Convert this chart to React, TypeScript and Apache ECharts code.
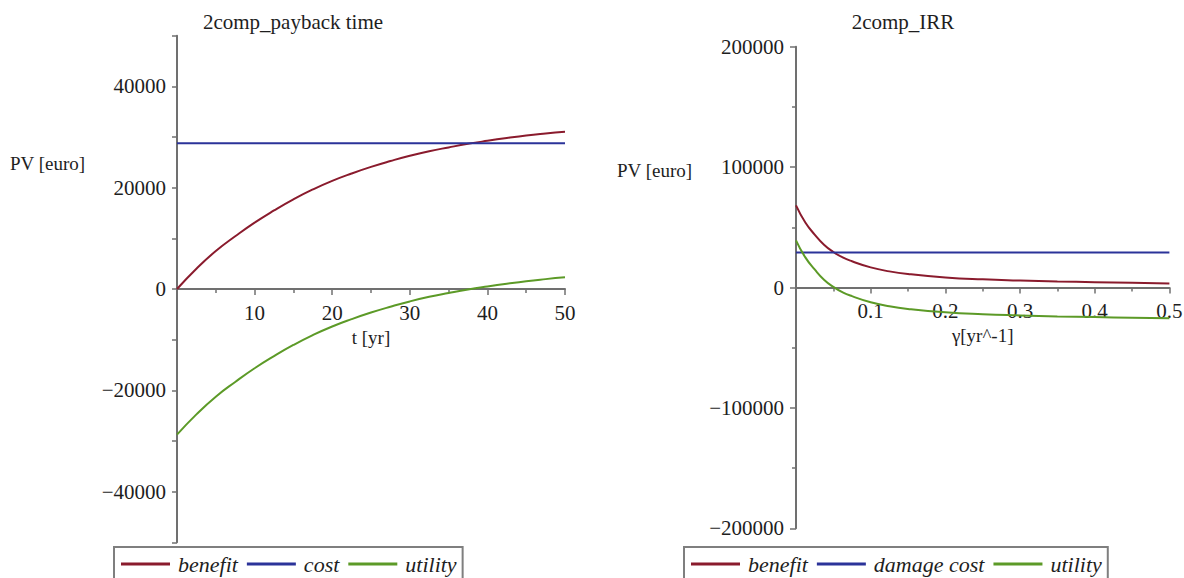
import React, { useEffect, useRef } from "react";
import * as echarts from "echarts";

// ---- Left chart: 2comp_payback time ----
const tYears = [0, 2.5, 5, 7.5, 10, 12.5, 15, 17.5, 20, 22.5, 25, 27.5, 30, 32.5, 35, 37.5, 40, 42.5, 45, 47.5, 50];
const benefitPayback = [0, 4000, 7500, 10400, 13100, 15500, 17700, 19650, 21350, 22800, 24100, 25250, 26300, 27200, 27950, 28650, 29250, 29800, 30300, 30700, 31050];
const costPayback = 28750;
const utilityPayback = [-28750, -24750, -21250, -18350, -15650, -13250, -11050, -9100, -7400, -5950, -4650, -3500, -2450, -1550, -800, -100, 500, 1050, 1550, 1950, 2300];

// ---- Right chart: 2comp_IRR ----
const gamma = [0, 0.0125, 0.025, 0.0375, 0.05, 0.0625, 0.075, 0.1, 0.125, 0.15, 0.2, 0.25, 0.3, 0.35, 0.4, 0.45, 0.5];
const benefitIRR = [68200, 54000, 44000, 35500, 29500, 25000, 21800, 16700, 13400, 11200, 8400, 6800, 5800, 5000, 4400, 3850, 3400];
const costIRR = 29000;
const utilityIRR = [39200, 25000, 15000, 6500, 500, -4000, -7200, -12300, -15600, -17800, -20600, -22200, -23200, -24000, -24600, -25150, -25600];

const leftLegend = ["benefit", "cost", "utility"];
const rightLegend = ["benefit", "damage cost", "utility"];

const FONT = '"Liberation Serif", "Times New Roman", serif';
const RED = "#8a1b2d";
const BLUE = "#2b3399";
const GREEN = "#5c9a27";
const AXIS = "#707070";
const TEXT = "#1e1e1e";

const minus = (v: number) => (v < 0 ? "\u2212" + Math.abs(v) : String(v));

export default function App() {
  const ref = useRef<HTMLDivElement>(null);
  useEffect(() => {
    document.body.style.margin = "0";
    const chart = echarts.init(ref.current!, null, { renderer: "svg" });
    const axisLine = { show: true, onZero: false, lineStyle: { color: AXIS, width: 2 } };
    const tick = { show: true, length: 6, lineStyle: { color: AXIS, width: 1.5 } };
    const minorTick = { show: true, splitNumber: 2, length: 4, lineStyle: { color: AXIS, width: 1.5 } };
    const label = { color: TEXT, fontFamily: FONT, fontSize: 21 };
    const nameStyle = { color: TEXT, fontFamily: FONT, fontSize: 19 };
    const lineSeries = (name: string, data: number[][], color: string, x: number, y: number) => ({
      type: "line",
      name,
      xAxisIndex: x,
      yAxisIndex: y,
      data,
      smooth: true,
      showSymbol: false,
      symbol: "none",
      lineStyle: { color, width: 2 },
      itemStyle: { color },
      emphasis: { disabled: true },
    });
    const legendBase = {
      orient: "horizontal",
      top: 547,
      padding: [5, 6, 5, 7],
      itemGap: 9,
      itemWidth: 49,
      itemHeight: 3,
      icon: "rect",
      borderColor: "#7f7f7f",
      borderWidth: 2,
      selectedMode: false,
      textStyle: { color: TEXT, fontFamily: FONT, fontSize: 22, fontStyle: "italic", lineHeight: 24, padding: [0, 0, 0, 3] },
    };
    chart.setOption({
      animation: false,
      backgroundColor: "#ffffff",
      tooltip: { show: false },
      grid: [
        { left: 177, top: 35.7, width: 388, height: 506.6, containLabel: false, outerBoundsMode: "none" },
        { left: 796, top: 46.7, width: 373.4, height: 481.6, containLabel: false, outerBoundsMode: "none" },
      ],
      xAxis: [
        {
          type: "value", gridIndex: 0, min: 0, max: 50, interval: 10, position: "bottom", offset: -253.3,
          name: "t [yr]", nameLocation: "middle", nameGap: 38, nameTextStyle: nameStyle,
          axisLine, axisTick: tick, minorTick, splitLine: { show: false },
          axisLabel: { ...label, margin: 13, formatter: (v: number) => (v === 0 ? "" : String(v)) },
        },
        {
          type: "value", gridIndex: 1, min: 0, max: 0.5, interval: 0.1, position: "bottom", offset: -240.8,
          name: "γ[yr^-1]", nameLocation: "middle", nameGap: 38, nameTextStyle: nameStyle,
          axisLine, axisTick: tick, minorTick, splitLine: { show: false },
          axisLabel: { ...label, margin: 13, formatter: (v: number) => (v === 0 ? "" : String(+v.toFixed(1))) },
        },
      ],
      yAxis: [
        {
          type: "value", gridIndex: 0, min: -50000, max: 50000, interval: 10000,
          axisLine, axisTick: { ...tick, length: 5 }, splitLine: { show: false },
          axisLabel: { ...label, margin: 11, formatter: (v: number) => (v % 20000 === 0 ? minus(v) : "") },
        },
        {
          type: "value", gridIndex: 1, min: -200000, max: 200000, interval: 100000,
          axisLine, axisTick: tick, minorTick, splitLine: { show: false },
          axisLabel: { ...label, margin: 12, formatter: (v: number) => minus(v) },
        },
      ],
      legend: [
        { ...legendBase, left: 114, data: leftLegend },
        { ...legendBase, left: 684, data: rightLegend },
      ],
      graphic: [
        { type: "text", x: 293, y: 22, style: { text: "2comp_payback time", font: `21px ${FONT}`, fill: TEXT, textAlign: "center", textVerticalAlign: "middle", align: "center", verticalAlign: "middle" } },
        { type: "text", x: 903, y: 22, style: { text: "2comp_IRR", font: `21px ${FONT}`, fill: TEXT, textAlign: "center", textVerticalAlign: "middle", align: "center", verticalAlign: "middle" } },
        { type: "text", x: 10, y: 163, style: { text: "PV [euro]", font: `19px ${FONT}`, fill: TEXT, textAlign: "left", textVerticalAlign: "middle", align: "left", verticalAlign: "middle" } },
        { type: "text", x: 617, y: 170, style: { text: "PV [euro]", font: `19px ${FONT}`, fill: TEXT, textAlign: "left", textVerticalAlign: "middle", align: "left", verticalAlign: "middle" } },
      ],
      series: [
        lineSeries("benefit", tYears.map((t, i) => [t, benefitPayback[i]]), RED, 0, 0),
        lineSeries("cost", [[tYears[0], costPayback], [tYears[tYears.length - 1], costPayback]], BLUE, 0, 0),
        lineSeries("utility", tYears.map((t, i) => [t, utilityPayback[i]]), GREEN, 0, 0),
        lineSeries("benefit", gamma.map((g, i) => [g, benefitIRR[i]]), RED, 1, 1),
        lineSeries("damage cost", [[gamma[0], costIRR], [gamma[gamma.length - 1], costIRR]], BLUE, 1, 1),
        lineSeries("utility", gamma.map((g, i) => [g, utilityIRR[i]]), GREEN, 1, 1),
      ],
    });
    return () => chart.dispose();
  }, []);
  return <div ref={ref} style={{ position: "fixed", left: 0, top: 0, width: 1184, height: 578, background: "#fff" }} />;
}
